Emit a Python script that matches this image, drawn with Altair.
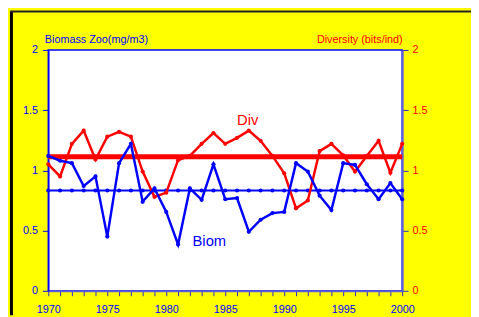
import altair as alt
import pandas as pd

years = list(range(1970, 2001))
biom = [1.12, 1.08, 1.06, 0.87, 0.95, 0.45, 1.06, 1.22, 0.74, 0.85,
        0.655, 0.385, 0.85, 0.755, 1.05, 0.76, 0.77, 0.49, 0.59, 0.645,
        0.655, 1.06, 0.99, 0.79, 0.67, 1.06, 1.045, 0.885, 0.76, 0.895, 0.76]
div = [1.05, 0.95, 1.22, 1.33, 1.09, 1.28, 1.32, 1.28, 0.99, 0.78,
       0.815, 1.085, 1.12, 1.22, 1.31, 1.22, 1.27, 1.33, 1.245, 1.12,
       0.975, 0.685, 0.75, 1.16, 1.22, 1.125, 0.99, 1.12, 1.245, 0.98, 1.22]
biom_mean = 0.833
div_mean = 1.113
y_ticks = [0, 0.5, 1, 1.5, 2]
label_names = ["Div", "Biom"]
label_years = [1986.9, 1983.65]
label_values = [1.42, 0.41]

BLUE = "#0000ff"
RED = "#ff0000"
SLATE = "#6060d8"
FONT = "Liberation Sans"

df = pd.DataFrame({"year": years, "Biom": biom, "Div": div,
                   "BiomMean": [biom_mean] * len(years),
                   "DivMean": [div_mean] * len(years)})
lab = pd.DataFrame({"name": label_names, "year": label_years, "value": label_values})
frame = pd.DataFrame({"a": [0]})

xscale = alt.Scale(domain=[1970, 2000], nice=False, zero=False)
yscale = alt.Scale(domain=[0, 2], nice=False)

xaxis = alt.Axis(values=years, tickCount=31, format="d",
                 labelExpr="datum.value % 5 == 0 ? datum.label : ''",
                 tickSize=5, tickColor="#2a2ac8", domainColor=SLATE, domainWidth=2,
                 labelColor=BLUE, labelFont=FONT, labelFontSize=11, labelPadding=8,
                 labelFlush=False, labelOverlap=False, grid=False, title=None)

left_axis = alt.Axis(values=y_ticks, format="~g", orient="left",
                     domainColor=BLUE, domainWidth=1.5, tickColor=BLUE, tickSize=6,
                     labelColor=BLUE, labelFont=FONT, labelFontSize=11, labelPadding=5,
                     grid=False, title="Biomass Zoo(mg/m3)", titleAngle=0,
                     titleAlign="left", titleBaseline="alphabetic", titleX=-4, titleY=-8,
                     titleColor=BLUE, titleFont=FONT, titleFontSize=11,
                     titleFontWeight="normal")

right_axis = alt.Axis(values=y_ticks, format="~g", orient="right",
                      domainColor=SLATE, domainWidth=2, tickColor="#2a2ac8", tickSize=6,
                      labelColor=RED, labelFont=FONT, labelFontSize=11, labelPadding=4,
                      grid=False, title="Diversity (bits/ind)", titleAngle=0,
                      titleAlign="right", titleBaseline="alphabetic", titleX=0, titleY=-8,
                      titleColor=RED, titleFont=FONT, titleFontSize=11,
                      titleFontWeight="normal")

X = alt.X("year:Q", scale=xscale, axis=xaxis)

base = alt.Chart(df)

red_mean = base.mark_line(color=RED, strokeWidth=5).encode(
    x=X, y=alt.Y("DivMean:Q", scale=yscale, axis=left_axis))
blue_mean = base.mark_line(color=BLUE, strokeWidth=2,
                           point=alt.OverlayMarkDef(color=BLUE, filled=True, size=18)).encode(
    x=X, y=alt.Y("BiomMean:Q", scale=yscale, axis=left_axis))
red_line = base.mark_line(color=RED, strokeWidth=2.5,
                          point=alt.OverlayMarkDef(color=RED, filled=True, size=18)).encode(
    x=X, y=alt.Y("Div:Q", scale=yscale, axis=left_axis))
texts = alt.Chart(lab).mark_text(font=FONT, fontSize=15).encode(
    x=X, y=alt.Y("value:Q", scale=yscale, axis=left_axis),
    text="name:N",
    color=alt.Color("name:N", scale=alt.Scale(domain=label_names, range=[RED, BLUE]),
                    legend=None))
border_v = alt.Chart(frame).mark_rule(color="#000000", strokeWidth=3).encode(
    x=alt.value(-37.5), y=alt.value(-39), y2=alt.value(270))
border_h = alt.Chart(frame).mark_rule(color="#222222", strokeWidth=2).encode(
    x=alt.value(-39), x2=alt.value(440), y=alt.value(-39))

left = alt.layer(red_mean, blue_mean, red_line, texts, border_v, border_h)

blue_line = base.mark_line(color=BLUE, strokeWidth=2.5,
                           point=alt.OverlayMarkDef(color=BLUE, filled=True, size=18)).encode(
    x=X, y=alt.Y("Biom:Q", scale=yscale, axis=right_axis))
right = alt.layer(blue_line)

chart = alt.layer(left, right).resolve_scale(y="independent").properties(
    width=360, height=245,
    background="#ffff00",
    padding={"left": 41, "top": 40, "right": 70, "bottom": 24},
    autosize=alt.AutoSizeParams(type="none"),
).configure_view(stroke=BLUE, strokeWidth=1.5, fill="#ffffff")

chart.save("out.html", embed_options={"renderer": "svg", "actions": False})
